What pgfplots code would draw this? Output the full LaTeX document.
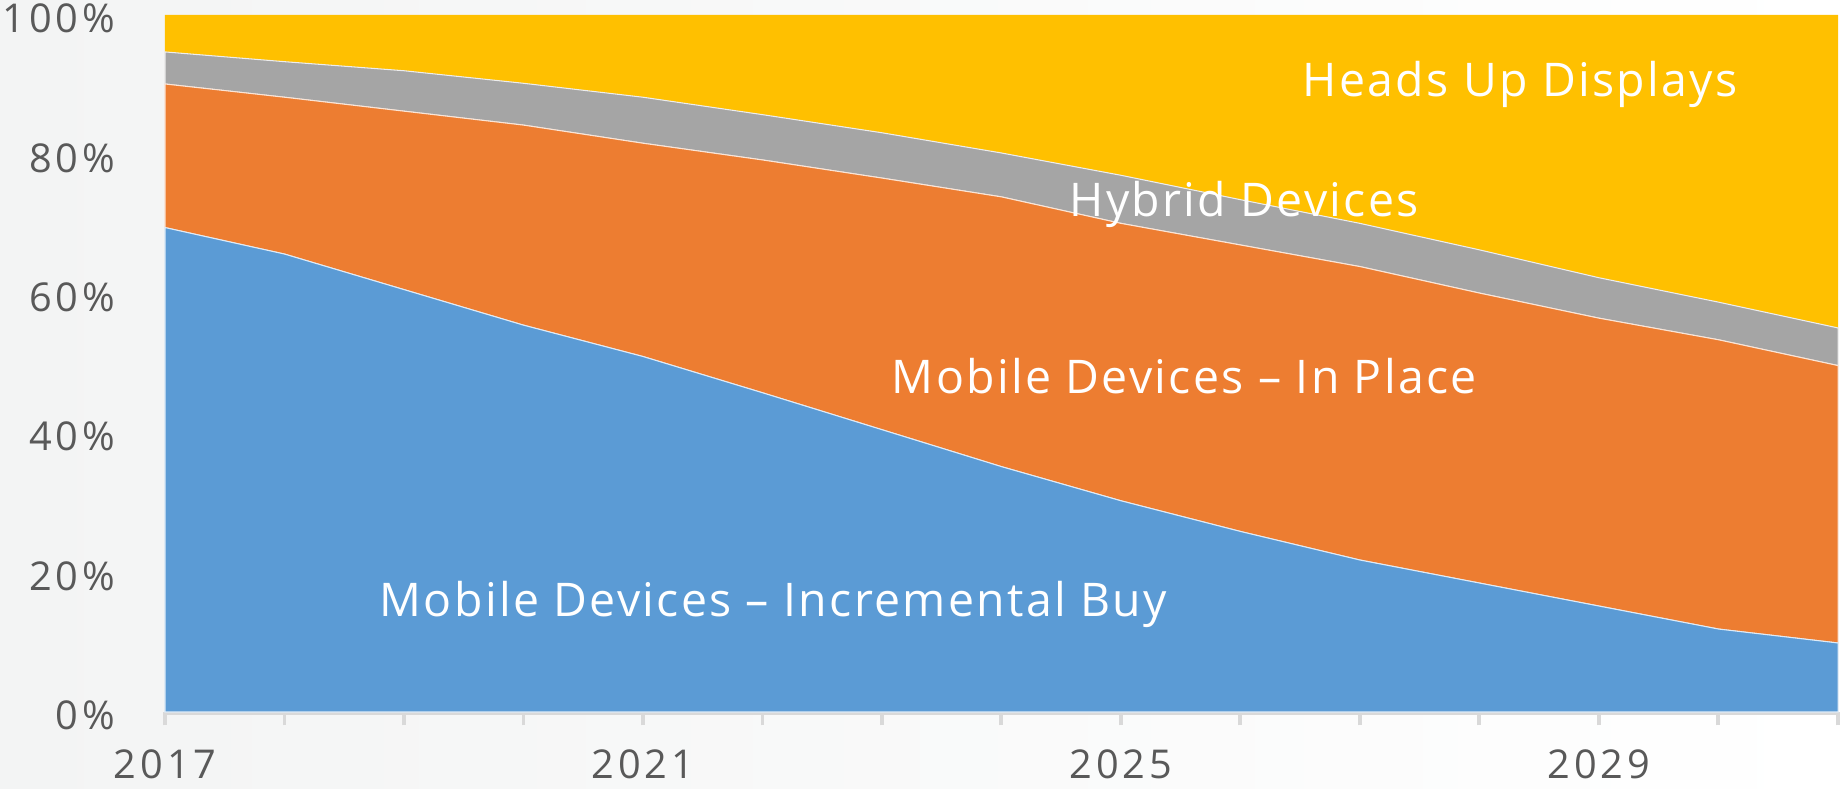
\documentclass[border=0pt]{standalone}
\usepackage{fontspec}
\setmainfont{Open Sans}
\newfontfamily\tkfnt[LetterSpace=10]{Open Sans}
\newfontfamily\anfnt[LetterSpace=5]{Open Sans}
\usepackage{pgfplots}
\pgfplotsset{compat=1.18}
\definecolor{cblue}{HTML}{5B9BD5}
\definecolor{corange}{HTML}{ED7D31}
\definecolor{cgray}{HTML}{A5A5A5}
\definecolor{cyellow}{HTML}{FFC000}
\definecolor{ticklab}{HTML}{595959}
\definecolor{tickline}{HTML}{D9D9D9}
\definecolor{bgl}{HTML}{F3F4F4}
\begin{document}
\begin{tikzpicture}
\shade[left color=bgl, right color=white] (0,0) rectangle (184mm,78.9mm);
\path[use as bounding box] (0,0) rectangle (184mm,78.9mm);
\begin{axis}[
  at={(16.5mm,7.7mm)}, anchor=south west,
  scale only axis, width=167.3mm, height=69.7mm,
  xmin=2017, xmax=2031, ymin=0, ymax=100,
  stack plots=y,
  axis x line*=bottom, axis y line*=left,
  x axis line style={draw=tickline, line width=1.6pt, -},
  y axis line style={draw=none, -},
  xtick={2017,...,2031},
  xticklabels={2017,,,,2021,,,,2025,,,,2029,,},
  ytick={0,20,40,60,80,100},
  yticklabels={0\%,20\%,40\%,60\%,80\%,100\%},
  tick style={draw=tickline, line width=1.1pt},
  major tick length=3.8pt,
  y tick style={draw=none},
  tick align=outside,
  ticklabel style={font=\tkfnt\fontsize{11.3}{13}\selectfont, text=ticklab},
  xticklabel style={yshift=-3.5pt},
  yticklabel style={xshift=-6.8pt, yshift=-1pt},
  clip=false,
]
\addplot[fill=cblue, draw=white!80!cblue, line width=0.3pt] coordinates {
(2017,69.5) (2018,65.7) (2019,60.6) (2020,55.5) (2021,51.0) (2022,45.8) (2023,40.5) (2024,35.2)
(2025,30.3) (2026,25.9) (2027,21.8) (2028,18.5) (2029,15.2) (2030,11.9) (2031,9.9)} \closedcycle;
\addplot[fill=corange, draw=white!80!corange, line width=0.3pt] coordinates {
(2017,20.6) (2018,22.5) (2019,25.6) (2020,28.7) (2021,30.6) (2022,33.4) (2023,36.1) (2024,38.7)
(2025,39.8) (2026,41.1) (2027,42.1) (2028,41.6) (2029,41.3) (2030,41.5) (2031,39.8)} \closedcycle;
\addplot[fill=cgray, draw=white!80!cgray, line width=0.3pt] coordinates {
(2017,4.6) (2018,5.1) (2019,5.8) (2020,6.0) (2021,6.6) (2022,6.5) (2023,6.5) (2024,6.3)
(2025,6.9) (2026,6.5) (2027,6.2) (2028,6.2) (2029,5.8) (2030,5.4) (2031,5.4)} \closedcycle;
\addplot[fill=cyellow, draw=none] coordinates {
(2017,5.3) (2018,6.7) (2019,8.0) (2020,9.8) (2021,11.8) (2022,14.3) (2023,16.9) (2024,19.8)
(2025,23.0) (2026,26.5) (2027,29.9) (2028,33.7) (2029,37.7) (2030,41.2) (2031,44.9)} \closedcycle;
\coordinate (hud) at (axis cs:2028.34,90.0);
\coordinate (hyb) at (axis cs:2026.03,72.8);
\coordinate (inp) at (axis cs:2025.53,48.2);
\coordinate (inc) at (axis cs:2022.09,15.4);
\end{axis}
\begin{scope}[every node/.append style={text=white, font=\anfnt\fontsize{13.2}{15}\selectfont}]
\node at (hud) {Heads Up Displays};
\node at (hyb) {Hybrid Devices};
\node at (inp) {Mobile Devices – In Place};
\node at (inc) {Mobile Devices – Incremental Buy};
\end{scope}
\end{tikzpicture}
\end{document}
